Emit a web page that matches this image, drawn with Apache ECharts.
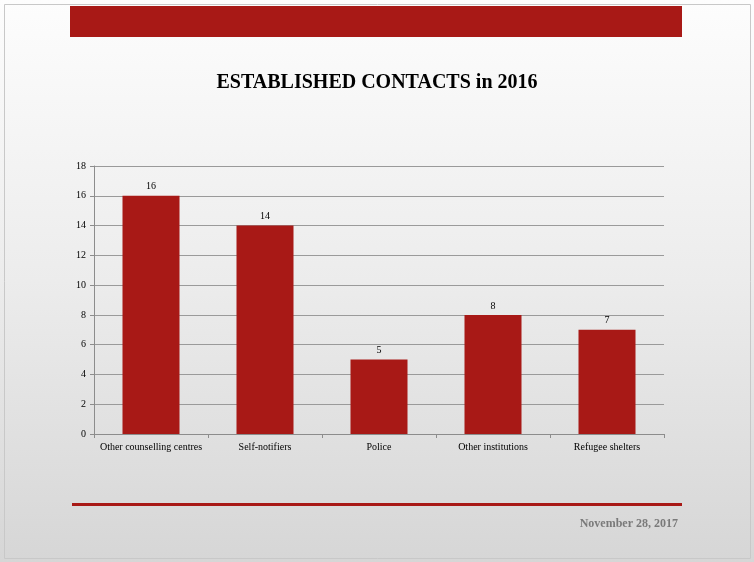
<!DOCTYPE html>
<html><head><meta charset="utf-8">
<script src="https://cdn.jsdelivr.net/npm/echarts@6/dist/echarts.min.js"></script>
<style>html,body{margin:0;padding:0;}#c{width:754px;height:562px;}</style>
</head><body><div id="c"></div>
<script>
var categories = ['Other counselling centres', 'Self-notifiers', 'Police', 'Other institutions', 'Refugee shelters'];
var values = [16, 14, 5, 8, 7];
var titleText = 'ESTABLISHED CONTACTS in 2016';
var dateText = 'November 28, 2017';

var red = '#a81916';
var chart = echarts.init(document.getElementById('c'));
chart.setOption({
  backgroundColor: {
    type: 'linear', x: 0, y: 0, x2: 0, y2: 1,
    colorStops: [{offset: 0, color: '#fdfdfd'}, {offset: 0.5, color: '#ececec'}, {offset: 1, color: '#d6d6d6'}]
  },
  animation: false,
  title: {
    text: titleText, left: 'center', top: 68,
    textStyle: {fontFamily: 'Liberation Serif', fontWeight: 'bold', fontSize: 20, color: '#000'}
  },
  graphic: [
    {type: 'rect', shape: {x: 4.5, y: 4.5, width: 746, height: 554}, style: {fill: 'none', stroke: '#c8c8c8', lineWidth: 1}, silent: true},
    {type: 'rect', shape: {x: 70, y: 6, width: 612, height: 31}, style: {fill: red}, silent: true},
    {type: 'rect', shape: {x: 72, y: 503, width: 610, height: 3}, style: {fill: red}, silent: true},
    {type: 'text', right: 76, top: 518, style: {text: dateText, fill: '#7a7a7a', font: 'bold 12px "Liberation Serif"', textAlign: 'right'}}
  ],
  grid: {left: 94, right: 90, top: 166, bottom: 128, containLabel: false},
  xAxis: {
    type: 'category', data: categories,
    axisLine: {lineStyle: {color: '#8c8c8c'}},
    axisTick: {show: true, length: 4, lineStyle: {color: '#8c8c8c'}},
    axisLabel: {interval: 0, fontFamily: 'Liberation Serif', fontSize: 10, color: '#000', margin: 8}
  },
  yAxis: {
    type: 'value', min: 0, max: 18, interval: 2,
    axisLine: {show: true, lineStyle: {color: '#8c8c8c'}},
    axisTick: {show: true, length: 4, lineStyle: {color: '#8c8c8c'}},
    splitLine: {lineStyle: {color: '#9a9a9a'}},
    axisLabel: {fontFamily: 'Liberation Serif', fontSize: 10, color: '#000', margin: 8}
  },
  series: [{
    type: 'bar', data: values, barWidth: '50%',
    itemStyle: {color: red},
    label: {show: true, position: 'top', distance: 4, fontFamily: 'Liberation Serif', fontSize: 10, color: '#000'}
  }]
});
</script></body></html>
